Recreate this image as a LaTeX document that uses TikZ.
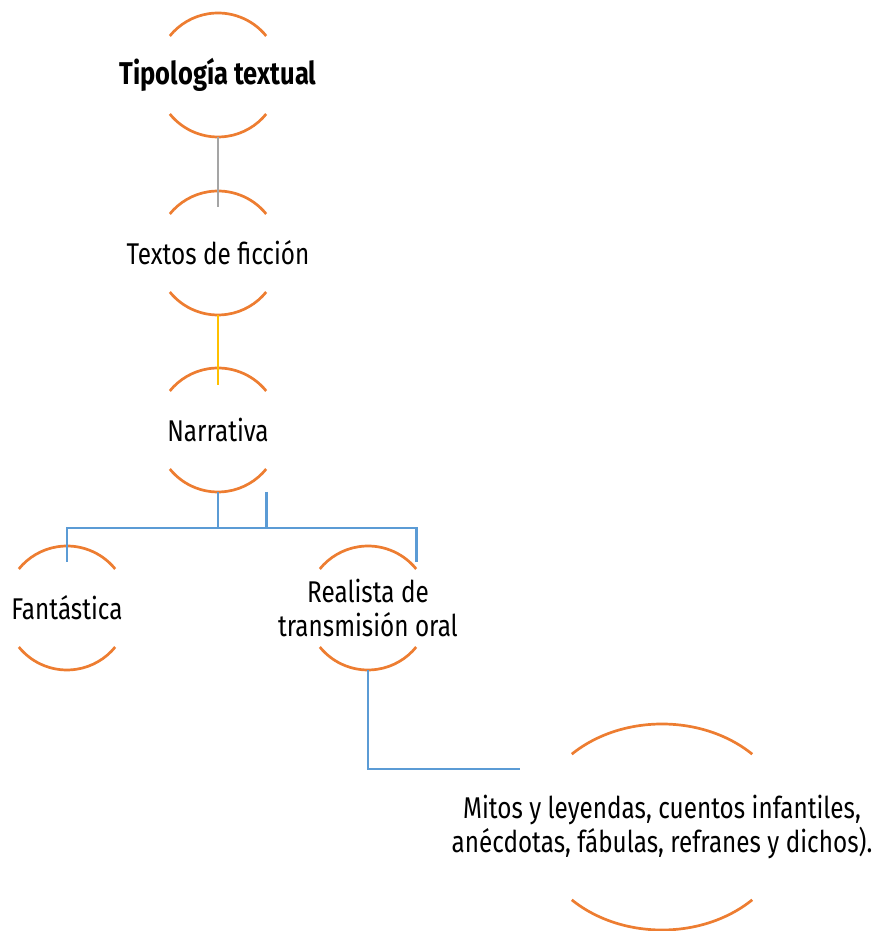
\documentclass[tikz,border=0pt]{standalone}
\usepackage{fontspec}
\setmainfont{Fira Sans}[FakeStretch=0.81]
\usetikzlibrary{calc}
\definecolor{naranja}{HTML}{ED7D31}
\definecolor{gris}{HTML}{A5A5A5}
\definecolor{amarillo}{HTML}{FFC000}
\definecolor{azul}{HTML}{5B9BD5}

\begin{document}
\begin{tikzpicture}[x=1pt,y=1pt,
    arco/.style={draw=naranja,line width=2.7pt},
    enlace/.style={line width=2.9pt}]

        \useasboundingbox (0,0) rectangle (874,931);

        \begin{scope}[every node/.style={align=center,inner sep=0pt,font=\fontsize{30}{34.5}\selectfont}]
          \node (tipo)  at (218,856) {\fontsize{31.5}{34}\selectfont\bfseries Tipología textual};
          \node (fic)   at (218,678) {Textos de ficción};
          \node (narr)  at (218,501) {Narrativa};
          \node (fant)  at (67,323)  {Fantástica};
          \node (real)  at (368,323) {Realista de\\transmisión oral};
          \node (mitos) at (662,104) {Mitos y leyendas, cuentos infantiles,\\anécdotas, fábulas, refranes y dichos).};
        \end{scope}

        % arcos de cada nodo
        \foreach \n/\a/\b/\t in {tipo/62/62/39,fic/62/62/39,narr/62/62/39,
                                 fant/62/62/39,real/62/62/39,mitos/127.6/103/45}{
          \draw[arco] ([shift={(\t:\a pt and \b pt)}]\n.center) coordinate (\n-ne)
            arc[start angle=\t,end angle=180-\t,x radius=\a pt,y radius=\b pt];
          \draw[arco] ([shift={(180+\t:\a pt and \b pt)}]\n.center)
            arc[start angle=180+\t,end angle=360-\t,x radius=\a pt,y radius=\b pt] coordinate (\n-se);
          \coordinate (\n-n) at ([yshift=\b pt]\n.center);
          \coordinate (\n-s) at ([yshift=-\b pt]\n.center);
        }

        \begin{scope}[every path/.style={enlace}]
          \draw[gris]     (tipo-s) -- ([yshift=-16pt]fic-n);
          \draw[amarillo] (fic-s)  -- ([yshift=-17pt]narr-n);
          \draw[azul] (narr-s) -- ++(0,-36) coordinate (barra);
          \draw[azul] (narr-se |- narr-s) -- (narr-se |- barra);
          \draw[azul] ([yshift=-16pt]fant-n) -- (fant-n |- barra) -- (real-ne |- barra)
                      -- ([yshift=7pt]real-ne);
          \coordinate (entrada) at ([shift={(-142,58)}]mitos.center);
          \draw[azul] (real-s) |- (entrada);
        \end{scope}

      \end{tikzpicture}
\end{document}
